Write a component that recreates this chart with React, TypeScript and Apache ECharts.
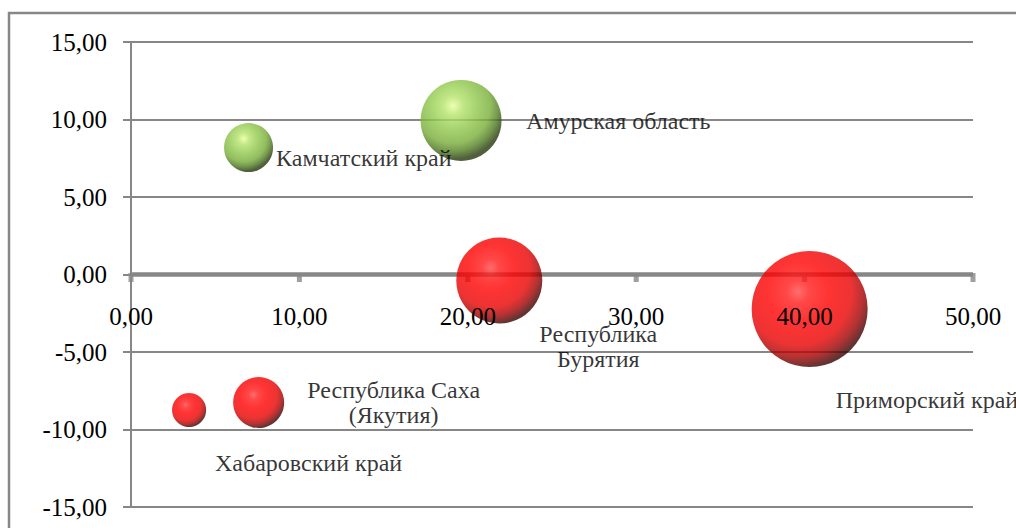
import React, { useEffect, useRef } from "react";
import * as echarts from "echarts";

// Data
const regions = [
  "Камчатский край",
  "Амурская область",
  "Республика\nБурятия",
  "Приморский край",
  "Республика Саха\n(Якутия)",
  "Хабаровский край",
];
const xValues = [6.98, 19.6, 21.87, 40.3, 7.58, 3.45];
const yValues = [8.19, 9.94, -0.39, -2.23, -8.26, -8.74];
const bubbleValues = [24, 65.6, 74, 134.6, 26, 11.6];
const groups = ["green", "green", "red", "red", "red", "red"];

const xTicks = { min: 0, max: 50, interval: 10 };
const yTicks = { min: -15, max: 15, interval: 5 };
const xTickValues = [0, 10, 20, 30, 40, 50];

// Layout for data labels: [dx, dy, align]
const labelLayout: [number, number, string][] = [
  [27.5, 10.5, "left"],
  [65, 0.5, "left"],
  [99, 66, "center"],
  [26, 91, "left"],
  [135, -0.5, "center"],
  [119.5, 53, "center"],
];

const SERIF = "Liberation Serif";
const GRAY = "#878787";

const redGrad = () =>
  new echarts.graphic.RadialGradient(0.4, 0.35, 0.66, [
    { offset: 0, color: "#ff4a4a" },
    { offset: 0.15, color: "#ff1a1a" },
    { offset: 0.4, color: "#ff0000" },
    { offset: 0.7, color: "#e80000" },
    { offset: 0.86, color: "#a00000" },
    { offset: 1, color: "#3a0000" },
  ]);
const greenGrad = () =>
  new echarts.graphic.RadialGradient(0.4, 0.32, 0.66, [
    { offset: 0, color: "#eaff9e" },
    { offset: 0.18, color: "#b4e26a" },
    { offset: 0.45, color: "#8fc74b" },
    { offset: 0.7, color: "#78ad38" },
    { offset: 0.86, color: "#4f7a20" },
    { offset: 1, color: "#25380c" },
  ]);

const fmt = (v: number) => v.toFixed(2).replace(".", ",");

export default function App() {
  const ref = useRef<HTMLDivElement>(null);
  useEffect(() => {
    if (!ref.current) return;
    const chart = echarts.init(ref.current, null, { renderer: "svg" });
    const data = regions.map((name, i) => ({
      name,
      value: [xValues[i], yValues[i], bubbleValues[i]],
      itemStyle: { color: groups[i] === "green" ? greenGrad() : redGrad() },
      label: {
        offset: [labelLayout[i][0], labelLayout[i][1]],
        align: labelLayout[i][2],
      },
    }));
    chart.setOption({
      animation: false,
      backgroundColor: "#ffffff",
      textStyle: { fontFamily: SERIF },
      grid: {
        left: 131,
        right: 43,
        top: 42,
        bottom: 21,
        containLabel: false,
        outerBoundsMode: "none",
      },
      graphic: [
        {
          type: "rect",
          shape: { x: 9, y: 13, width: 1200, height: 700 },
          style: { fill: "none", stroke: GRAY, lineWidth: 2.5 },
          silent: true,
          z: -1,
        },
      ],
      xAxis: {
        type: "value",
        min: xTicks.min,
        max: xTicks.max,
        interval: xTicks.interval,
        axisLine: { show: false },
        axisTick: { show: false },
        axisLabel: { show: false },
        splitLine: { show: false },
      },
      yAxis: {
        type: "value",
        min: yTicks.min,
        max: yTicks.max,
        interval: yTicks.interval,
        axisLine: { show: true, onZero: false, lineStyle: { color: GRAY, width: 2 } },
        axisTick: { show: true, inside: false, length: 8, lineStyle: { color: GRAY, width: 2 } },
        axisLabel: {
          margin: 24,
          formatter: fmt,
          fontFamily: SERIF,
          fontSize: 25,
          color: "#000",
        },
        splitLine: { show: true, lineStyle: { color: GRAY, width: 2 } },
      },
      series: [
        {
          // zero axis line (x axis drawn at y = 0)
          type: "line",
          silent: true,
          symbol: "none",
          data: [
            [xTicks.min, 0],
            [xTicks.max, 0],
          ],
          lineStyle: { color: GRAY, width: 4.5 },
          z: 1,
        },
        {
          // x axis tick marks
          type: "scatter",
          silent: true,
          symbol: "rect",
          symbolSize: [5, 9],
          symbolOffset: [0, 3],
          itemStyle: { color: GRAY },
          data: xTickValues.map((v) => [v, 0]),
          z: 1,
        },
        {
          type: "scatter",
          symbol: "circle",
          symbolSize: (v: number[]) => Math.sqrt(v[2]) * 10,
          data,
          z: 2,
          label: {
            show: true,
            position: "inside",
            formatter: (p: any) => p.name,
            fontFamily: SERIF,
            fontSize: 24,
            lineHeight: 25,
            color: "#000",
            verticalAlign: "middle",
          },
        },
        {
          // x axis tick labels, drawn at y = 0 above the bubbles
          type: "scatter",
          silent: true,
          symbol: "circle",
          symbolSize: 1,
          itemStyle: { color: "rgba(0,0,0,0)" },
          data: xTickValues.map((v) => [v, 0]),
          z: 10,
          label: {
            show: true,
            position: "inside",
            offset: [0, 42],
            formatter: (p: any) => fmt(p.value[0]),
            fontFamily: SERIF,
            fontSize: 25,
            color: "#000",
            opacity: 1,
            verticalAlign: "middle",
            align: "center",
          },
        },
      ],
    });
    return () => chart.dispose();
  }, []);
  return (
    <div
      ref={ref}
      style={{ position: "fixed", left: 0, top: 0, width: 1016, height: 528 }}
    />
  );
}
